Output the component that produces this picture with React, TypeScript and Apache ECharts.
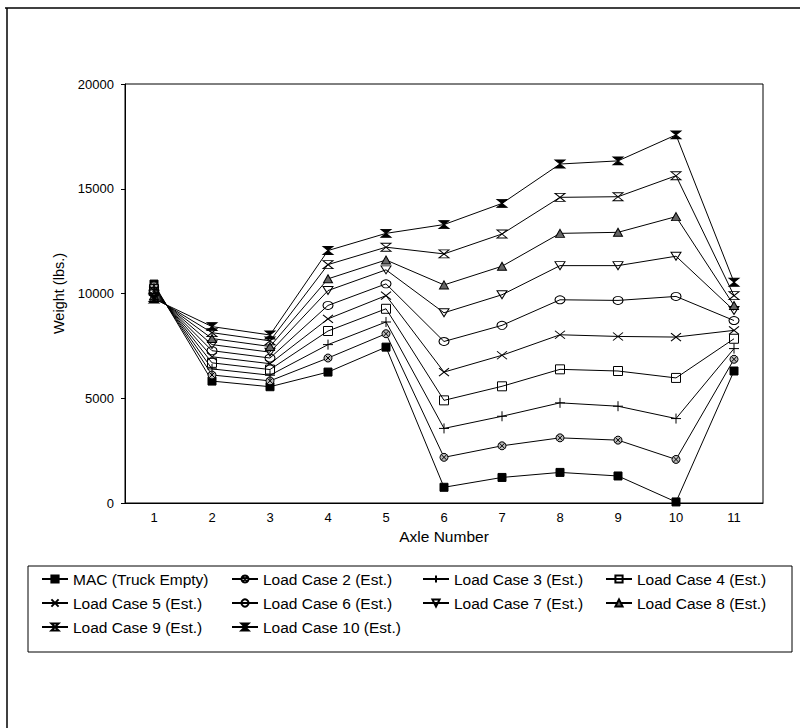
import React, { useEffect, useRef } from "react";
import * as echarts from "echarts";

const AXLES = ["1", "2", "3", "4", "5", "6", "7", "8", "9", "10", "11"];

const SERIES_NAMES = [
  "MAC (Truck Empty)",
  "Load Case 2 (Est.)",
  "Load Case 3 (Est.)",
  "Load Case 4 (Est.)",
  "Load Case 5 (Est.)",
  "Load Case 6 (Est.)",
  "Load Case 7 (Est.)",
  "Load Case 8 (Est.)",
  "Load Case 9 (Est.)",
  "Load Case 10 (Est.)",
];

const MAC = [10450, 5820, 5550, 6250, 7440, 750, 1220, 1460, 1290, 50, 6300];
const LC2 = [10370, 6110, 5830, 6920, 8080, 2180, 2730, 3110, 3000, 2080, 6860];
const LC3 = [10290, 6400, 6100, 7560, 8640, 3560, 4140, 4780, 4620, 4030, 7370];
const LC4 = [10210, 6690, 6370, 8210, 9270, 4900, 5570, 6380, 6300, 5970, 7840];
const LC5 = [10130, 6980, 6650, 8790, 9900, 6250, 7050, 8030, 7950, 7920, 8240];
const LC6 = [10050, 7270, 6920, 9430, 10460, 7710, 8480, 9700, 9670, 9860, 8710];
const LC7 = [9970, 7560, 7200, 10140, 11130, 9080, 9940, 11330, 11330, 11780, 9190];
const LC8 = [9890, 7850, 7470, 10700, 11600, 10410, 11300, 12870, 12920, 13670, 9430];
const LC9 = [9810, 8130, 7740, 11380, 12210, 11890, 12840, 14590, 14620, 15620, 9900];
const LC10 = [9740, 8420, 8020, 12050, 12870, 13290, 14300, 16180, 16330, 17570, 10540];

const SERIES_VALUES = [MAC, LC2, LC3, LC4, LC5, LC6, LC7, LC8, LC9, LC10];

const Y_MIN = 0;
const Y_MAX = 20000;
const Y_INTERVAL = 5000;

const FONT = "'Liberation Sans', Arial, sans-serif";

// marker styles per series
const MARKERS: { symbol: string; size: number | number[]; fill: string }[] = [
  { symbol: "rect", size: 8, fill: "#000" },
  {
    symbol:
      "path://M5 0 A5 5 0 1 1 4.99 0 Z M1.5 1.5 L8.5 8.5 M8.5 1.5 L1.5 8.5",
    size: 8,
    fill: "#bbb",
  },
  { symbol: "path://M5 0 L5 10 M0 5 L10 5", size: 10, fill: "transparent" },
  { symbol: "rect", size: 9, fill: "transparent" },
  { symbol: "path://M0 0 L10 10 M10 0 L0 10", size: [10, 8], fill: "transparent" },
  { symbol: "circle", size: [10, 8], fill: "transparent" },
  { symbol: "path://M0 0 L10 0 L5 9 Z", size: [10, 8], fill: "transparent" },
  { symbol: "triangle", size: [9, 8], fill: "#666" },
  { symbol: "path://M0 0 L10 0 L0 10 L10 10 Z", size: [10, 8], fill: "transparent" },
  { symbol: "path://M0 0 L10 0 L0 10 L10 10 Z", size: [10, 8], fill: "#000" },
];

const LEGEND_COLS = [41, 231, 422, 605];
const LEGEND_ROWS = [580, 604, 628];

export default function App() {
  const ref = useRef<HTMLDivElement>(null);

  useEffect(() => {
    if (!ref.current) return;
    const chart = echarts.init(ref.current, undefined, { renderer: "svg" });

    const series = SERIES_NAMES.map((name, i) => ({
      name,
      type: "line",
      data: SERIES_VALUES[i],
      symbol: MARKERS[i].symbol,
      symbolSize: MARKERS[i].size,
      showAllSymbol: true,
      lineStyle: { color: "#000", width: 1 },
      itemStyle: {
        color: MARKERS[i].fill,
        borderColor: "#000",
        borderWidth: 1,
      },
      emphasis: { disabled: true },
      z: 2 + i,
    }));

    const legends = SERIES_NAMES.map((name, i) => ({
      data: [name],
      left: LEGEND_COLS[i % 4],
      top: LEGEND_ROWS[Math.floor(i / 4)] - 9,
      orient: "horizontal",
      padding: 0,
      itemWidth: 26,
      itemHeight: 9,
      itemGap: 0,
      selectedMode: false,
      textStyle: { fontFamily: FONT, fontSize: 15.5, color: "#000" },
    }));

    chart.setOption({
      animation: false,
      backgroundColor: "#fff",
      textStyle: { fontFamily: FONT },
      grid: {
        left: 125,
        right: 37,
        top: 84,
        bottom: 225,
        show: true,
        borderColor: "#000",
        borderWidth: 1,
        backgroundColor: "transparent",
      },
      xAxis: {
        type: "category",
        data: AXLES,
        boundaryGap: true,
        name: "Axle Number",
        nameLocation: "middle",
        nameGap: 24,
        nameTextStyle: { fontFamily: FONT, fontSize: 15.5, color: "#000" },
        axisLine: { lineStyle: { color: "#000", width: 1 } },
        axisTick: { alignWithLabel: true, length: 5, lineStyle: { color: "#000" } },
        axisLabel: { fontFamily: FONT, fontSize: 13, color: "#000", margin: 8 },
        splitLine: { show: false },
      },
      yAxis: {
        type: "value",
        min: Y_MIN,
        max: Y_MAX,
        interval: Y_INTERVAL,
        name: "Weight (lbs.)",
        nameLocation: "middle",
        nameGap: 54,
        nameTextStyle: { fontFamily: FONT, fontSize: 14.5, color: "#000" },
        axisLine: { show: true, lineStyle: { color: "#000", width: 1 } },
        axisTick: { show: true, length: 4, lineStyle: { color: "#000" } },
        axisLabel: {
          fontFamily: FONT,
          fontSize: 13,
          color: "#000",
          margin: 11,
          formatter: (v: number) => String(v),
        },
        splitLine: { show: false },
      },
      legend: legends,
      graphic: [
        {
          type: "line",
          shape: { x1: 5, y1: 8, x2: 800, y2: 8 },
          style: { stroke: "#000", lineWidth: 1.5 },
        },
        {
          type: "line",
          shape: { x1: 7, y1: 8, x2: 7, y2: 728 },
          style: { stroke: "#000", lineWidth: 1.5 },
        },
        {
          type: "rect",
          shape: { x: 28, y: 566, width: 764, height: 86 },
          style: { stroke: "#000", lineWidth: 1, fill: "transparent" },
        },
      ],
      series,
    });

    return () => chart.dispose();
  }, []);

  return (
    <div
      ref={ref}
      style={{ position: "absolute", left: 0, top: 0, width: 800, height: 728 }}
    />
  );
}
